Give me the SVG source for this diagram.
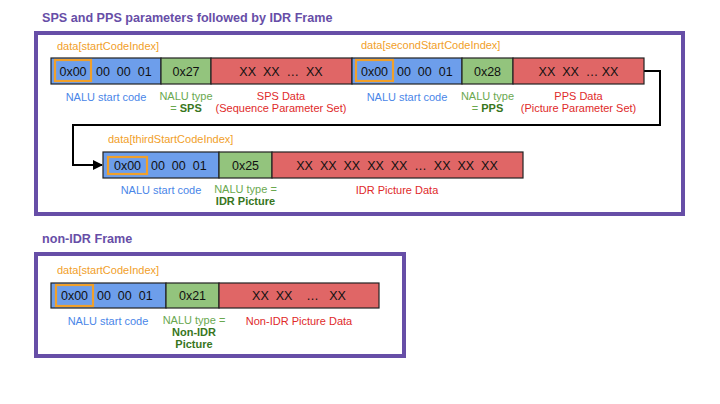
<svg xmlns="http://www.w3.org/2000/svg" width="720" height="404" viewBox="0 0 720 404">
<style>
text{font-family:"Liberation Sans",Arial,sans-serif;}
.title{font-size:12.6px;font-weight:bold;fill:#674ea7;}
.frame{fill:none;stroke:#674ea7;stroke-width:4;}
.b{fill:#6d9eeb;stroke:#222;stroke-width:1.2;}
.g{fill:#93c47d;stroke:#222;stroke-width:1.2;}
.r{fill:#e06666;stroke:#222;stroke-width:1.2;}
.o{fill:none;stroke:#f1a02a;stroke-width:2.2;}
.ct{font-size:12.5px;fill:#111;text-anchor:middle;}
.cl{font-size:12.5px;fill:#111;}
.idx{font-size:11px;fill:#f1a02a;}
.lb{font-size:11px;fill:#4a86e8;text-anchor:middle;}
.lg{font-size:11px;fill:#6aa84f;text-anchor:middle;}
.lgb{font-size:11px;fill:#38761d;font-weight:bold;}
.lr{font-size:11px;fill:#e02a2a;text-anchor:middle;}
.conn{fill:none;stroke:#000;stroke-width:2;}
</style>
<defs>
<marker id="arr" markerWidth="10" markerHeight="10" refX="9" refY="5" orient="auto" markerUnits="userSpaceOnUse">
<path d="M0,0 L10,5 L0,10 z" fill="#000"/>
</marker>
</defs>

<text class="title" x="42" y="22">SPS and PPS parameters followed by IDR Frame</text>
<rect class="frame" x="36" y="33" width="647" height="181"/>

<g id="connectors">
<path class="conn" d="M644,71 H660 V125 H73 V165 H102" marker-end="url(#arr)"/>
</g>

<g id="sps-startcode">
<text class="idx" x="57" y="50">data[startCodeIndex]</text>
<rect class="b" x="51" y="58" width="110" height="26"/>
<rect class="o" x="55" y="60" width="36" height="21"/>
<text class="ct" x="73" y="75.5">0x00</text>
<text class="cl" x="96" y="75.5" xml:space="preserve">00  00  01</text>
<text class="lb" x="106" y="101">NALU start code</text>
</g>
<g id="sps-type">
<rect class="g" x="161" y="58" width="50" height="26"/>
<text class="ct" x="186" y="75.5">0x27</text>
<text class="lg" x="186" y="100">NALU type</text>
<text class="lg" x="186" y="112">= <tspan class="lgb">SPS</tspan></text>
</g>
<g id="sps-data">
<rect class="r" x="211" y="58" width="141" height="26"/>
<text class="ct" x="281" y="75.5" xml:space="preserve">XX  XX  …  XX</text>
<text class="lr" x="281" y="100">SPS Data</text>
<text class="lr" x="281" y="112">(Sequence Parameter Set)</text>
</g>

<g id="pps-startcode">
<text class="idx" x="361" y="49">data[secondStartCodeIndex]</text>
<rect class="b" x="352" y="58" width="110" height="26"/>
<rect class="o" x="356" y="60" width="37" height="21"/>
<text class="ct" x="374.5" y="75.5">0x00</text>
<text class="cl" x="397" y="75.5" xml:space="preserve">00  00  01</text>
<text class="lb" x="407" y="101">NALU start code</text>
</g>
<g id="pps-type">
<rect class="g" x="462" y="58" width="51" height="26"/>
<text class="ct" x="487.5" y="75.5">0x28</text>
<text class="lg" x="487.5" y="100">NALU type</text>
<text class="lg" x="487.5" y="112">= <tspan class="lgb">PPS</tspan></text>
</g>
<g id="pps-data">
<rect class="r" x="513" y="58" width="131" height="26"/>
<text class="ct" x="578.5" y="75.5" xml:space="preserve">XX  XX  … XX</text>
<text class="lr" x="578.5" y="100">PPS Data</text>
<text class="lr" x="578.5" y="112">(Picture Parameter Set)</text>
</g>

<g id="idr-startcode">
<text class="idx" x="108" y="143">data[thirdStartCodeIndex]</text>
<rect class="b" x="103" y="152" width="116" height="26"/>
<rect class="o" x="108" y="157" width="39" height="17"/>
<text class="ct" x="127.5" y="170">0x00</text>
<text class="cl" x="151" y="170" xml:space="preserve">00  00  01</text>
<text class="lb" x="161" y="194">NALU start code</text>
</g>
<g id="idr-type">
<rect class="g" x="219" y="152" width="53" height="26"/>
<text class="ct" x="245.5" y="170">0x25</text>
<text class="lg" x="245.5" y="193">NALU type =</text>
<text class="lgb" x="245.5" y="205" text-anchor="middle">IDR Picture</text>
</g>
<g id="idr-data">
<rect class="r" x="272" y="152" width="251" height="26"/>
<text class="ct" x="397" y="170" xml:space="preserve">XX  XX  XX  XX  XX  …  XX  XX  XX</text>
<text class="lr" x="397" y="194">IDR Picture Data</text>
</g>

<text class="title" x="42" y="243">non-IDR Frame</text>
<rect class="frame" x="36" y="254" width="368" height="102"/>

<g id="nonidr-startcode">
<text class="idx" x="57" y="274">data[startCodeIndex]</text>
<rect class="b" x="51" y="283" width="115" height="25"/>
<rect class="o" x="56" y="285" width="37" height="21"/>
<text class="ct" x="74.5" y="300">0x00</text>
<text class="cl" x="97" y="300" xml:space="preserve">00  00  01</text>
<text class="lb" x="108" y="325">NALU start code</text>
</g>
<g id="nonidr-type">
<rect class="g" x="166" y="283" width="53" height="25"/>
<text class="ct" x="192.5" y="300">0x21</text>
<text class="lg" x="194" y="324">NALU type =</text>
<text class="lgb" x="194" y="336" text-anchor="middle">Non-IDR</text>
<text class="lgb" x="194" y="348" text-anchor="middle">Picture</text>
</g>
<g id="nonidr-data">
<rect class="r" x="219" y="283" width="160" height="25"/>
<text class="ct" x="299" y="300" xml:space="preserve">XX  XX    …   XX</text>
<text class="lr" x="299" y="325">Non-IDR Picture Data</text>
</g>
</svg>
